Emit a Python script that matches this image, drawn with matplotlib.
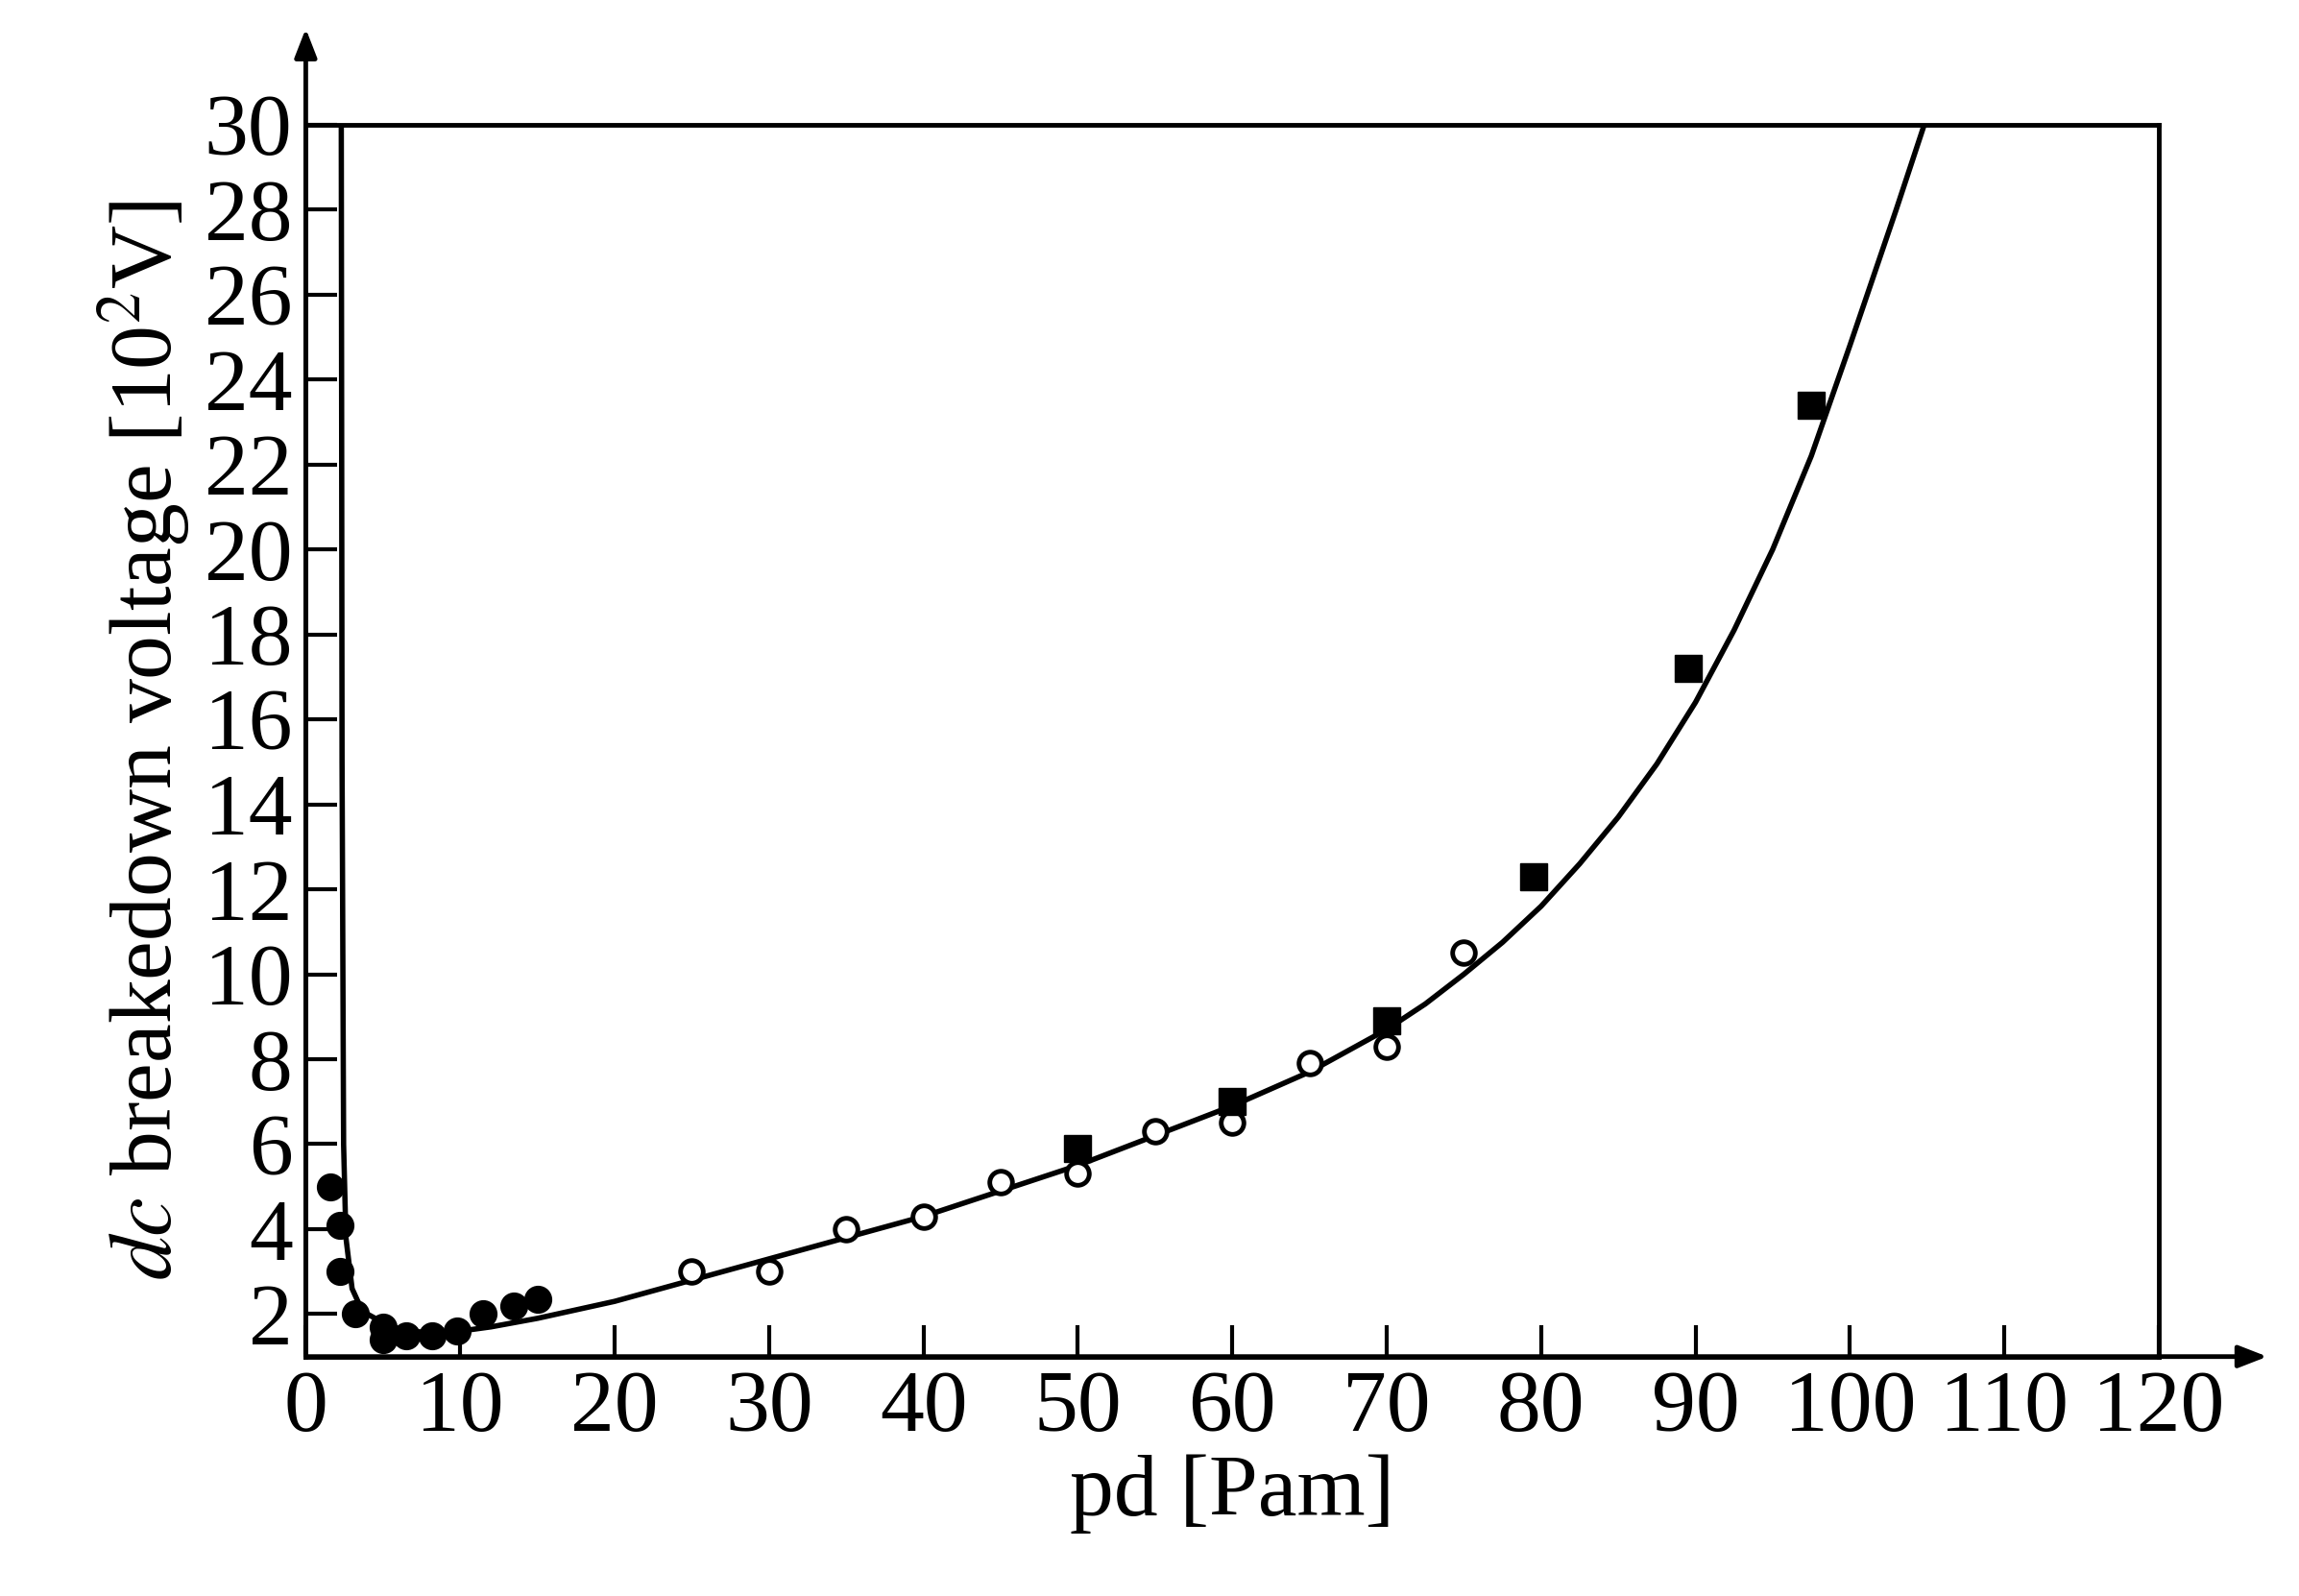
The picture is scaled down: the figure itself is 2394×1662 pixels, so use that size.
import matplotlib
matplotlib.use("Agg")
import matplotlib.pyplot as plt

plt.rcParams['font.family'] = ['Liberation Serif', 'DejaVu Serif']
plt.rcParams['mathtext.fontset'] = 'stix'

# data
filled_x = [1.6, 2.2, 2.2, 3.2, 5.0, 5.0, 6.5, 8.2, 9.8, 11.5, 13.5, 15.0]
filled_y = [5.0, 4.1, 3.0, 2.0, 1.7, 1.4, 1.5, 1.5, 1.6, 2.0, 2.2, 2.35]
open_x = [25, 30, 35, 40, 45, 50, 55, 60, 65, 70, 75]
open_y = [3.0, 3.0, 4.0, 4.3, 5.1, 5.3, 6.3, 6.5, 7.9, 8.3, 10.5]
sq_x = [50, 60, 70, 79.5, 89.5, 97.5]
sq_y = [5.9, 7.0, 8.9, 12.3, 17.2, 23.4]
curve_x = [2.3, 2.35, 2.45, 2.6, 3.0, 3.5, 4, 5, 6, 8, 10, 12, 15, 17.5, 20, 25, 30, 35, 40, 45,
           50, 55, 60, 65, 70, 72.5, 75, 77.5, 80, 82.5, 85, 87.5, 90, 92.5, 95, 97.5,
           100, 101.5, 103, 104, 105]
curve_y = [30, 15, 6, 3.8, 2.6, 2.2, 2.0, 1.8, 1.65, 1.55, 1.6, 1.7, 1.9, 2.1, 2.3, 2.8, 3.3,
           3.8, 4.3, 4.9, 5.5, 6.2, 6.9, 7.7, 8.7, 9.3, 10.0, 10.75, 11.6, 12.6, 13.7, 14.95,
           16.4, 18.1, 20.0, 22.2, 24.8, 26.4, 28.0, 29.1, 30.2]

fig = plt.figure(figsize=(23.94, 16.62), dpi=100)
ax = fig.add_axes([0.133, 0.150, 0.806, 0.772])

ax.plot(curve_x, curve_y, color='black', lw=4, clip_on=True)
ax.plot(filled_x, filled_y, 'o', color='black', ms=20)
ax.plot(open_x, open_y, 'o', mfc='white', mec='black', mew=3.5, ms=17)
ax.plot(sq_x, sq_y, 's', color='black', ms=20)

ax.set_xlim(0, 120)
ax.set_ylim(1, 30)
ax.set_xticks(range(0, 121, 10))
ax.set_yticks(range(2, 31, 2))
ax.tick_params(direction='in', length=24, width=3, labelsize=66, pad=10)
for s in ax.spines.values():
    s.set_linewidth(3.5)

# axis arrows
ax.annotate('', xy=(1.06, 0), xycoords='axes fraction', xytext=(0, 0),
            arrowprops=dict(arrowstyle='-|>,head_length=1.8,head_width=0.7', color='black', lw=3.5))
ax.annotate('', xy=(0, 1.08), xycoords='axes fraction', xytext=(0, 0),
            arrowprops=dict(arrowstyle='-|>,head_length=1.8,head_width=0.7', color='black', lw=3.5))

ax.set_xlabel('pd [Pam]', fontsize=66, labelpad=4)
ax.set_ylabel('$dc$ breakedown voltage [10$^2$V]', fontsize=66, labelpad=8)

fig.savefig('out.png', dpi=100)
